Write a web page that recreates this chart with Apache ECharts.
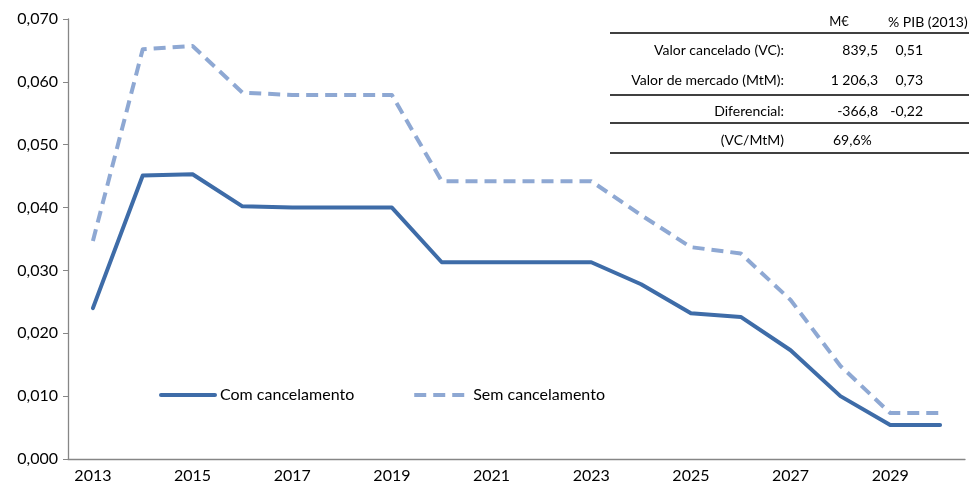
<!DOCTYPE html>
<html>
<head>
<meta charset="utf-8">
<script src="https://cdn.jsdelivr.net/npm/echarts@6/dist/echarts.min.js"></script>
<style>
  html, body { margin: 0; padding: 0; background: #fff; }
  #chart { width: 969px; height: 492px; }
</style>
</head>
<body>
<div id="chart"></div>
<script>
// anos (categorias do eixo x)
const years = ['2013', '2014', '2015', '2016', '2017', '2018', '2019', '2020', '2021',
  '2022', '2023', '2024', '2025', '2026', '2027', '2028', '2029', '2030'];

// séries
const comCancelamento = [0.0240, 0.0451, 0.0453, 0.0402, 0.0400, 0.0400, 0.0400, 0.0313, 0.0313,
  0.0313, 0.0313, 0.0278, 0.0232, 0.0226, 0.0173, 0.0100, 0.0054, 0.0054];
const semCancelamento = [0.0347, 0.0652, 0.0657, 0.0583, 0.0579, 0.0579, 0.0579, 0.0442, 0.0442,
  0.0442, 0.0442, 0.0388, 0.0337, 0.0327, 0.0253, 0.0148, 0.0073, 0.0073];

// tabela do canto superior direito
const tableHeader = ['M€', '% PIB (2013)'];
const tableLabels = ['Valor cancelado (VC):', 'Valor de mercado (MtM):', 'Diferencial:', '(VC/MtM)'];
const tableEur = ['839,5', '1 206,3', '-366,8', '69,6%'];
const tablePib = ['0,51', '0,73', '-0,22', ''];

const font = 'Lato, "Open Sans", sans-serif';
const axisColor = '#868686';

const chart = echarts.init(document.getElementById('chart'));

// monta a tabela como elementos graphic
const rowY = [50, 80, 111, 140];
const graphics = [];
const hLine = y => ({
  type: 'line', shape: { x1: 610, y1: y, x2: 969, y2: y },
  style: { stroke: '#000', lineWidth: 1.3 }
});
[33, 95, 123, 153].forEach(y => graphics.push(hLine(y)));
graphics.push({
  type: 'text', x: 839, y: 22,
  style: { text: tableHeader[0], font: '13px ' + font, fill: '#000', align: 'center', verticalAlign: 'middle' }
});
graphics.push({
  type: 'text', x: 888, y: 22,
  style: { text: tableHeader[1], font: '14px ' + font, fill: '#000', align: 'left', verticalAlign: 'middle' }
});
tableLabels.forEach((t, i) => {
  graphics.push({
    type: 'text', x: 784, y: rowY[i],
    style: { text: t, font: '14px ' + font, fill: '#000', align: 'right', verticalAlign: 'middle' }
  });
  graphics.push({
    type: 'text', x: i === 3 ? 833 : 878, y: rowY[i],
    style: { text: tableEur[i], font: '14px ' + font, fill: '#000', align: i === 3 ? 'left' : 'right', verticalAlign: 'middle' }
  });
  graphics.push({
    type: 'text', x: 923, y: rowY[i],
    style: { text: tablePib[i], font: '14px ' + font, fill: '#000', align: 'right', verticalAlign: 'middle' }
  });
});

const option = {
  animation: false,
  backgroundColor: '#fff',
  grid: { left: 68, right: 4, top: 19, bottom: 33 },
  legend: {
    left: 154,
    top: 382,
    itemWidth: 54,
    itemHeight: 14,
    itemGap: 58,
    itemStyle: { opacity: 0 },
    lineStyle: { width: 4 },
    textStyle: { fontFamily: font, fontSize: 16, color: '#000' },
    data: ['Com cancelamento', 'Sem cancelamento']
  },
  xAxis: {
    type: 'category',
    data: years,
    boundaryGap: true,
    axisLine: { lineStyle: { color: axisColor, width: 1.3 } },
    axisTick: { interval: 1, length: 5, lineStyle: { color: axisColor } },
    axisLabel: { interval: 1, fontFamily: font, fontSize: 16, color: '#000', margin: 9 }
  },
  yAxis: {
    type: 'value',
    min: 0,
    max: 0.07,
    interval: 0.01,
    splitLine: { show: false },
    axisLine: { show: true, lineStyle: { color: axisColor, width: 1.3 } },
    axisTick: { show: true, length: 5, lineStyle: { color: axisColor } },
    axisLabel: {
      fontFamily: font, fontSize: 16, color: '#000', margin: 10,
      formatter: v => v.toFixed(3).replace('.', ',')
    }
  },
  series: [
    {
      name: 'Com cancelamento',
      type: 'line',
      data: comCancelamento,
      symbol: 'none',
      color: '#3E6CA8',
      lineStyle: { width: 4, color: '#3E6CA8', cap: 'round', join: 'round' }
    },
    {
      name: 'Sem cancelamento',
      type: 'line',
      data: semCancelamento,
      symbol: 'none',
      color: '#8EA8D3',
      lineStyle: { width: 4, color: '#8EA8D3', type: [12, 7], join: 'round' }
    }
  ],
  graphic: graphics
};

chart.setOption(option);
</script>
</body>
</html>
